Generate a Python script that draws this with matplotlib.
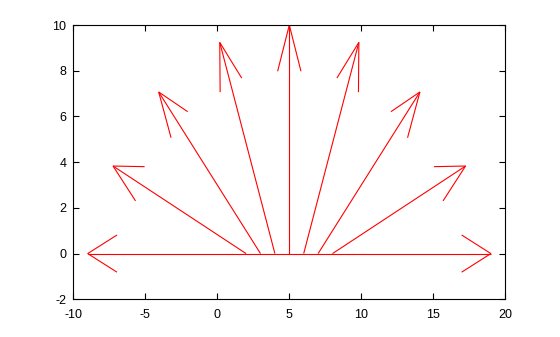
import matplotlib
matplotlib.use("Agg")
import matplotlib.pyplot as plt

# quiver data: base points on y=0, vectors of length 10
x0 = [1, 2, 3, 4, 5, 6, 7, 8, 9]
y0 = [0, 0, 0, 0, 0, 0, 0, 0, 0]
u = [-10.0, -9.24, -7.07, -3.83, 0.0, 3.83, 7.07, 9.24, 10.0]
v = [0.0, 3.83, 7.07, 9.24, 10.0, 9.24, 7.07, 3.83, 0.0]

xticks = [-10, -5, 0, 5, 10, 15, 20]
yticks = [-2, 0, 2, 4, 6, 8, 10]

HEAD_LEN = 0.2    # fraction of vector length
HEAD_WID = 0.08   # half-width, fraction of vector length

plt.rcParams["font.family"] = ["Liberation Sans", "DejaVu Sans"]
plt.rcParams["axes.unicode_minus"] = False

fig = plt.figure(figsize=(5.6, 3.37), dpi=100)
ax = fig.add_axes([73.3 / 560, 1 - 299.3 / 337, 432 / 560, 274.3 / 337])

# the base row of the arrows is joined along y=0
ax.plot([x0[0], x0[-1]], [y0[0], y0[-1]], color="red", lw=0.8)

for xs, ys, du, dv in zip(x0, y0, u, v):
    xs, ys = float(xs), float(ys)
    xe, ye = xs + du, ys + dv
    # shaft
    ax.plot([xs, xe], [ys, ye], color="red", lw=0.8, solid_capstyle="butt")
    # open V head
    bx, by = xe - HEAD_LEN * du, ye - HEAD_LEN * dv
    px, py = -HEAD_WID * dv, HEAD_WID * du
    ax.plot([bx + px, xe, bx - px], [by + py, ye, by - py],
            color="red", lw=0.8, solid_joinstyle="miter")

ax.set_xlim(-10, 20)
ax.set_ylim(-2, 10)
ax.set_xticks(xticks)
ax.set_yticks(yticks)
ax.tick_params(direction="in", length=4, width=0.8, labelsize=9,
               top=True, right=True)
ax.tick_params(axis="x", pad=7)
ax.tick_params(axis="y", pad=5)
for spine in ax.spines.values():
    spine.set_linewidth(0.8)

fig.savefig("out.png", dpi=100)
